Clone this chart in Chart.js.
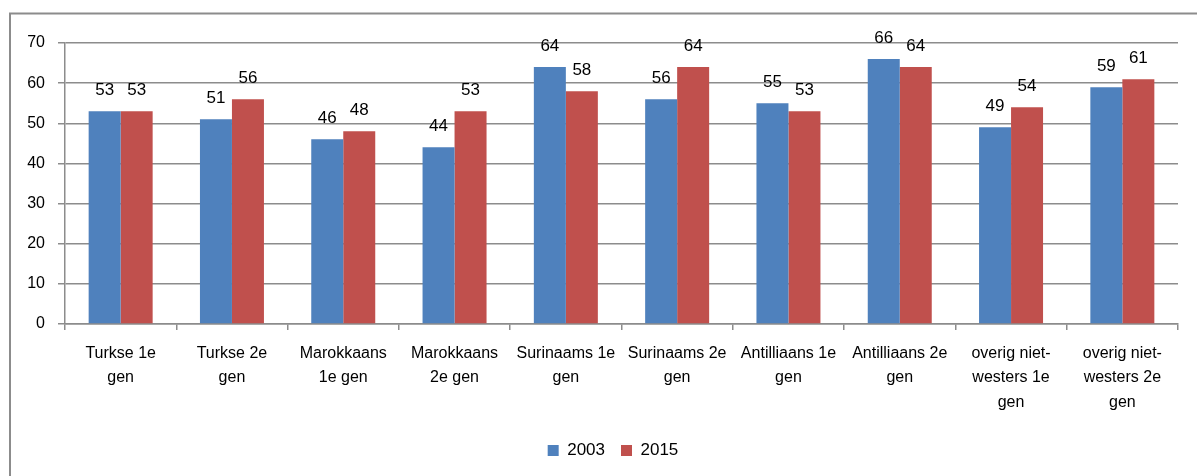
<!DOCTYPE html>
<html>
<head>
<meta charset="utf-8">
<script src="https://cdn.jsdelivr.net/npm/chart.js@4/dist/chart.umd.min.js"></script>
<style>
  html, body { margin: 0; padding: 0; background: #fff; }
  #wrap { position: relative; width: 1197px; height: 476px; }
</style>
</head>
<body>
<div id="wrap"><canvas id="groepenChart" width="1197" height="476"></canvas></div>
<script>
const categories = [
    ['Turkse 1e', 'gen'],
    ['Turkse 2e', 'gen'],
    ['Marokkaans', '1e gen'],
    ['Marokkaans', '2e gen'],
    ['Surinaams 1e', 'gen'],
    ['Surinaams 2e', 'gen'],
    ['Antilliaans 1e', 'gen'],
    ['Antilliaans 2e', 'gen'],
    ['overig niet-', 'westers 1e', 'gen'],
    ['overig niet-', 'westers 2e', 'gen']
];
const waarden2003 = [53, 51, 46, 44, 64, 56, 55, 66, 49, 59];
const waarden2015 = [53, 56, 48, 53, 58, 64, 53, 64, 54, 61];
const yTicks = [0, 10, 20, 30, 40, 50, 60, 70];

const fontFamily = '"Liberation Sans", Arial, sans-serif';
const gridGrijs = '#8c8c8c';

// rand rond de grafiek
const kaderPlugin = {
    id: 'kader',
    beforeDraw(chart) {
        const ctx = chart.ctx;
        ctx.save();
        ctx.strokeStyle = gridGrijs;
        ctx.lineWidth = 2;
        ctx.strokeRect(10, 13.5, 1400, 700);
        ctx.restore();
    }
};

// legenda iets naar rechts schuiven
const legendaVerschuiving = {
    id: 'legendaVerschuiving',
    afterLayout(chart) {
        if (chart.legend) {
            chart.legend.left += 24;
            chart.legend.right += 24;
        }
    }
};

// waarden boven de staven
const waardeLabels = {
    id: 'waardeLabels',
    afterDatasetsDraw(chart) {
        const ctx = chart.ctx;
        ctx.save();
        ctx.font = '17px ' + fontFamily;
        ctx.fillStyle = '#000';
        ctx.textAlign = 'center';
        ctx.textBaseline = 'alphabetic';
        chart.data.datasets.forEach((ds, i) => {
            chart.getDatasetMeta(i).data.forEach((bar, j) => {
                ctx.fillText(String(ds.data[j]), bar.x, bar.y - 16);
            });
        });
        ctx.restore();
    }
};

new Chart(document.getElementById('groepenChart').getContext('2d'), {
    type: 'bar',
    data: {
        labels: categories,
        datasets: [
            {
                label: '2003',
                data: waarden2003,
                backgroundColor: '#4f81bd',
                borderWidth: 0
            },
            {
                label: '2015',
                data: waarden2015,
                backgroundColor: '#c0504d',
                borderWidth: 0
            }
        ]
    },
    options: {
        responsive: false,
        animation: false,
        devicePixelRatio: 1,
        layout: {
            padding: { left: 0, right: 19, top: 43, bottom: 7 }
        },
        datasets: {
            bar: { categoryPercentage: 0.575, barPercentage: 1.0 }
        },
        plugins: {
            title: { display: false },
            tooltip: { enabled: false },
            legend: {
                position: 'bottom',
                labels: {
                    boxWidth: 11,
                    boxHeight: 11,
                    padding: 16,
                    color: '#000',
                    font: { family: fontFamily, size: 17 }
                }
            }
        },
        scales: {
            y: {
                min: 0,
                max: 70,
                afterFit(axis) { axis.width = 65; },
                afterBuildTicks(axis) { axis.ticks = yTicks.map(v => ({ value: v })); },
                ticks: {
                    color: '#000',
                    padding: 13,
                    font: { family: fontFamily, size: 16 }
                },
                grid: {
                    color: gridGrijs,
                    lineWidth: 1.5,
                    tickLength: 7
                },
                border: { color: gridGrijs, width: 1.5 }
            },
            x: {
                afterFit(axis) { axis.height = 102; },
                ticks: {
                    color: '#000',
                    padding: 11,
                    maxRotation: 0,
                    autoSkip: false,
                    font: { family: fontFamily, size: 16, lineHeight: 1.53 }
                },
                grid: {
                    offset: true,
                    drawOnChartArea: false,
                    drawTicks: true,
                    tickLength: 6,
                    color: gridGrijs,
                    lineWidth: 1.5
                },
                border: { color: gridGrijs, width: 1.5 }
            }
        }
    },
    plugins: [kaderPlugin, legendaVerschuiving, waardeLabels]
});
</script>
</body>
</html>
